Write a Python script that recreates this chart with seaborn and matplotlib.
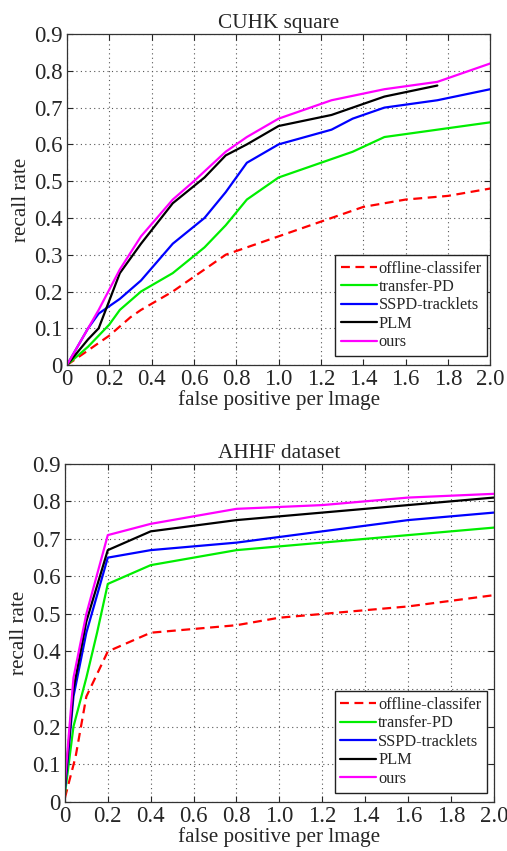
import numpy as np
import pandas as pd
import matplotlib
matplotlib.use("Agg")
import matplotlib.pyplot as plt
import seaborn as sns

sns.set_style("ticks")
plt.rcParams['font.family'] = ['Liberation Serif', 'DejaVu Serif']

names = ['offline-classifer', 'transfer-PD', 'SSPD-tracklets', 'PLM', 'ours']
colors = ['#ff0000', '#00ee00', '#0000ff', '#000000', '#ff00ff']
styles = [(0, (4, 2.5)), '-', '-', '-', '-']

# CUHK square
cuhk_off_x = [0, 0.1, 0.2, 0.3, 0.35, 0.5, 0.6, 0.65, 0.75, 0.85, 1.0, 1.25, 1.4, 1.5, 1.6, 1.8, 2.0]
cuhk_off_y = [0, 0.04, 0.08, 0.13, 0.15, 0.2, 0.24, 0.26, 0.3, 0.32, 0.35, 0.4, 0.43, 0.44, 0.45, 0.46, 0.48]
cuhk_tr_x = [0, 0.1, 0.15, 0.2, 0.25, 0.35, 0.5, 0.65, 0.75, 0.85, 1.0, 1.25, 1.35, 1.5, 1.75, 2.0]
cuhk_tr_y = [0, 0.05, 0.08, 0.11, 0.15, 0.2, 0.25, 0.32, 0.38, 0.45, 0.51, 0.56, 0.58, 0.62, 0.64, 0.66]
cuhk_ss_x = [0, 0.1, 0.15, 0.25, 0.35, 0.5, 0.65, 0.75, 0.85, 1.0, 1.25, 1.35, 1.5, 1.75, 2.0]
cuhk_ss_y = [0, 0.1, 0.14, 0.18, 0.23, 0.33, 0.40, 0.47, 0.55, 0.6, 0.64, 0.67, 0.70, 0.72, 0.75]
cuhk_plm_x = [0, 0.1, 0.15, 0.25, 0.35, 0.5, 0.65, 0.75, 0.85, 1.0, 1.25, 1.5, 1.75]
cuhk_plm_y = [0, 0.07, 0.1, 0.25, 0.33, 0.44, 0.51, 0.57, 0.6, 0.65, 0.68, 0.73, 0.76]
cuhk_our_x = [0, 0.15, 0.25, 0.35, 0.5, 0.6, 0.75, 0.85, 1.0, 1.25, 1.5, 1.75, 2.0]
cuhk_our_y = [0, 0.15, 0.26, 0.35, 0.45, 0.5, 0.58, 0.62, 0.67, 0.72, 0.75, 0.77, 0.82]

# AHHF dataset
ahhf_off_x = [0, 0.05, 0.1, 0.15, 0.2, 0.4, 0.6, 0.8, 1.0, 1.2, 1.4, 1.6, 1.8, 2.0]
ahhf_off_y = [0.01, 0.12, 0.28, 0.34, 0.4, 0.45, 0.46, 0.47, 0.49, 0.5, 0.51, 0.52, 0.535, 0.55]
ahhf_tr_x = [0, 0.04, 0.1, 0.15, 0.2, 0.4, 0.8, 1.2, 1.6, 2.0]
ahhf_tr_y = [0.02, 0.2, 0.33, 0.45, 0.58, 0.63, 0.67, 0.69, 0.71, 0.73]
ahhf_ss_x = [0, 0.04, 0.1, 0.2, 0.4, 0.8, 1.2, 1.6, 2.0]
ahhf_ss_y = [0.03, 0.28, 0.45, 0.65, 0.67, 0.69, 0.72, 0.75, 0.77]
ahhf_plm_x = [0, 0.04, 0.1, 0.2, 0.4, 0.8, 1.2, 1.6, 2.0]
ahhf_plm_y = [0.04, 0.3, 0.48, 0.67, 0.72, 0.75, 0.77, 0.79, 0.81]
ahhf_our_x = [0, 0.04, 0.1, 0.2, 0.4, 0.8, 1.2, 1.6, 2.0]
ahhf_our_y = [0.05, 0.33, 0.5, 0.71, 0.74, 0.78, 0.79, 0.81, 0.82]

panels = [
    ('CUHK square', [(cuhk_off_x, cuhk_off_y), (cuhk_tr_x, cuhk_tr_y), (cuhk_ss_x, cuhk_ss_y),
                     (cuhk_plm_x, cuhk_plm_y), (cuhk_our_x, cuhk_our_y)]),
    ('AHHF dataset', [(ahhf_off_x, ahhf_off_y), (ahhf_tr_x, ahhf_tr_y), (ahhf_ss_x, ahhf_ss_y),
                      (ahhf_plm_x, ahhf_plm_y), (ahhf_our_x, ahhf_our_y)]),
]

xticks = np.arange(0, 2.01, 0.2)
xlabels = ['0'] + ['%.1f' % v for v in xticks[1:]]
yticks = np.arange(0, 0.91, 0.1)
ylabels = ['0'] + ['%.1f' % v for v in yticks[1:]]

fig = plt.figure(figsize=(5.07, 8.51), dpi=100)
rects = [[0.132, 0.571, 0.835, 0.389], [0.128, 0.058, 0.846, 0.397]]
anchors = [(0.993, 0.027), (0.984, 0.027)]

for (title, series), r, anc in zip(panels, rects, anchors):
    ax = fig.add_axes(r)
    for (xs, ys), nm, c, ls in zip(series, names, colors, styles):
        df = pd.DataFrame({'x': xs, 'y': ys})
        sns.lineplot(data=df, x='x', y='y', ax=ax, color=c, linestyle=ls,
                     linewidth=1.6, label=nm, estimator=None, sort=False)
    ax.set_xlim(0, 2.0)
    ax.set_ylim(0, 0.9)
    ax.set_xticks(xticks)
    ax.set_xticklabels(xlabels)
    ax.set_yticks(yticks)
    ax.set_yticklabels(ylabels)
    ax.grid(True, linestyle=(0, (1, 3)), color='#555555', linewidth=0.8)
    ax.tick_params(direction='in', top=True, right=True, labelsize=16.5, length=4)
    ax.tick_params(axis='x', pad=3)
    ax.tick_params(axis='y', pad=3)
    for s in ax.spines.values():
        s.set_color('#333333')
        s.set_linewidth(0.9)
    ax.set_title(title, fontsize=15.3, pad=4)
    ax.set_xlabel('false positive per lmage', fontsize=15.2, labelpad=0)
    ax.set_ylabel('recall rate', fontsize=15.2, labelpad=2)
    leg = ax.legend(loc='lower right', bbox_to_anchor=anc, fontsize=11.8, handlelength=2.2,
                    handletextpad=0.1, labelspacing=0.15, borderpad=0.35, fancybox=False,
                    framealpha=1, edgecolor='#222222', borderaxespad=0)
    leg.get_frame().set_linewidth(1.0)

fig.savefig('out.png', dpi=100)
